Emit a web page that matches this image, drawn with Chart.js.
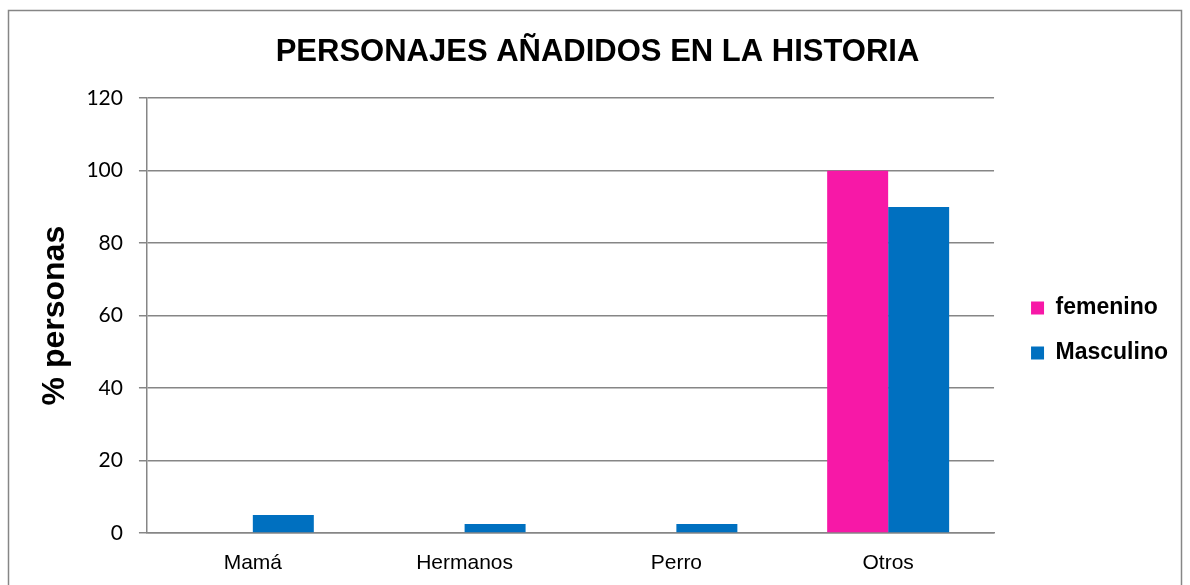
<!DOCTYPE html>
<html>
<head>
<meta charset="utf-8">
<script src="https://cdn.jsdelivr.net/npm/chart.js@4/dist/chart.umd.min.js"></script>
<style>
  html, body { margin: 0; padding: 0; background: #fff; }
  #wrap { position: absolute; left: 0; top: 0; width: 1190px; height: 585px; }
</style>
</head>
<body>
<div id="wrap"><canvas id="barChart"></canvas></div>
<script>
const categories = ["Mamá", "Hermanos", "Perro", "Otros"];
const femenino = [0, 0, 0, 100];
const masculino = [5, 2.5, 2.5, 90];
const yTicks = [0, 20, 40, 60, 80, 100, 120];

// outer frame around the whole chart
const framePlugin = {
  id: "frame",
  beforeDraw(chart) {
    const c = chart.ctx;
    c.save();
    c.fillStyle = "#fff";
    c.fillRect(0, 0, chart.width, chart.height);
    c.strokeStyle = "#868686";
    c.lineWidth = 1.5;
    c.strokeRect(8.5, 10.5, 1173, 600);
    c.restore();
  },
};

// nudge the legend a bit right/down without changing the plot area
const legendNudge = {
  id: "legendNudge",
  afterLayout(chart) {
    const lg = chart.legend;
    lg.left += 15;
    lg.right += 15;
    lg.top += 21;
    lg.bottom += 21;
  },
};

const ctx = document.getElementById("barChart").getContext("2d");
const barChart = new Chart(ctx, {
  type: "bar",
  data: {
    labels: categories,
    datasets: [
      {
        label: "femenino",
        data: femenino,
        backgroundColor: "#f718a7",
        categoryPercentage: 0.576,
        barPercentage: 1.0,
      },
      {
        label: "Masculino",
        data: masculino,
        backgroundColor: "#0070c0",
        categoryPercentage: 0.576,
        barPercentage: 1.0,
      },
    ],
  },
  options: {
    responsive: true,
    maintainAspectRatio: false,
    animation: false,
    layout: {
      padding: { left: 32, top: 34, right: 27, bottom: 0 },
    },
    scales: {
      y: {
        min: 0,
        max: 120,
        afterBuildTicks: function (scale) {
          scale.ticks = yTicks.map((v) => ({ value: v }));
        },
        afterFit: function (scale) {
          scale.width = scale.width - 8; // pull tick labels closer to the axis title
        },
        ticks: {
          color: "#000",
          padding: 16,
          font: { family: "Lato", size: 21 },
        },
        grid: {
          color: "#868686",
          lineWidth: 1.5,
          tickLength: 8,
        },
        border: { color: "#868686", width: 1.5 },
        title: {
          display: true,
          text: "% personas",
          color: "#000",
          padding: { bottom: 4 },
          font: { family: "Arial", size: 32, weight: "bold" },
        },
      },
      x: {
        afterFit: function (scale) {
          scale.height = 52;
        },
        grid: { display: false, drawTicks: false },
        border: { color: "#868686", width: 1.5 },
        ticks: {
          color: "#000",
          padding: 18,
          font: { family: "Arial", size: 21 },
        },
      },
    },
    plugins: {
      title: {
        display: true,
        text: "PERSONAJES AÑADIDOS EN LA HISTORIA",
        color: "#000",
        padding: { top: 0, bottom: 27 },
        font: { family: "Arial", size: 31, weight: "bold" },
      },
      legend: {
        position: "right",
        labels: {
          color: "#000",
          boxWidth: 13,
          boxHeight: 13,
          padding: 22,
          font: { family: "Arial", size: 23, weight: "bold" },
        },
      },
      tooltip: { enabled: false },
    },
  },
  plugins: [framePlugin, legendNudge],
});
</script>
</body>
</html>
